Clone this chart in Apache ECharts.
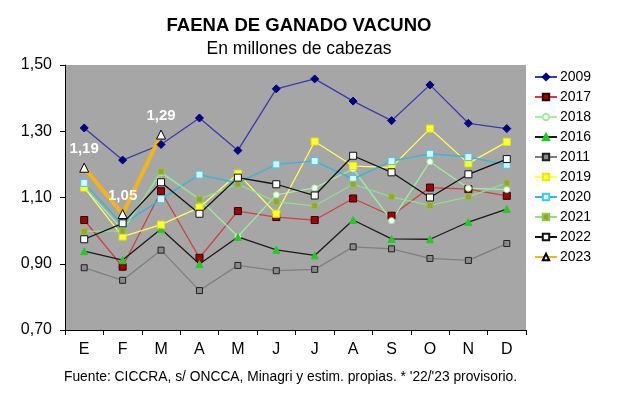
<!DOCTYPE html>
<html><head><meta charset="utf-8">
<script src="https://cdn.jsdelivr.net/npm/echarts@6/dist/echarts.min.js"></script>
<style>html,body{margin:0;padding:0;background:#fff}#c{width:640px;height:396px}</style>
</head><body><div id="c"></div>
<script>
const months = ['E','F','M','A','M','J','J','A','S','O','N','D'];
const yTicks = [0.70, 0.90, 1.10, 1.30, 1.50];
const s2009 = [1.310, 1.213, 1.260, 1.340, 1.242, 1.428, 1.458, 1.391, 1.332, 1.440, 1.324, 1.308];
const s2017 = [1.032, 0.891, 1.119, 0.918, 1.059, 1.041, 1.032, 1.097, 1.045, 1.130, 1.125, 1.105];
const s2018 = [1.130, 1.003, 1.175, 1.095, 0.982, 1.108, 1.129, 1.186, 1.030, 1.208, 1.128, 1.124];
const s2016 = [0.938, 0.911, 1.005, 0.899, 0.981, 0.942, 0.925, 1.032, 0.975, 0.974, 1.026, 1.065];
const s2011 = [0.888, 0.850, 0.941, 0.819, 0.895, 0.879, 0.883, 0.951, 0.945, 0.916, 0.910, 0.961];
const s2019 = [1.130, 0.982, 1.018, 1.070, 1.172, 1.051, 1.269, 1.195, 1.191, 1.308, 1.203, 1.268];
const s2020 = [1.144, 1.018, 1.095, 1.169, 1.144, 1.200, 1.210, 1.156, 1.210, 1.232, 1.222, 1.199];
const s2021 = [0.998, 0.999, 1.178, 1.095, 1.140, 1.087, 1.075, 1.140, 1.102, 1.076, 1.102, 1.144];
const s2022 = [0.974, 1.022, 1.146, 1.051, 1.160, 1.140, 1.106, 1.226, 1.176, 1.100, 1.170, 1.216];
const s2023 = [1.190, 1.050, 1.290];

const FONT = '"Liberation Sans", Arial, sans-serif';
function mk(name, data, lineColor, lineWidth, symbol, size, fill, border) {
  return {
    name, type: 'line', data, symbol, symbolSize: size, showAllSymbol: true,
    lineStyle: { color: lineColor, width: lineWidth },
    itemStyle: { color: fill, borderColor: border, borderWidth: 1 },
    emphasis: { disabled: true }, animation: false
  };
}
const series = [
  mk('2009', s2009, '#3b3bb0', 1.3, 'diamond', 8, '#000080', '#000080'),
  mk('2017', s2017, '#d04040', 1.3, 'rect', 7, '#a00000', '#300000'),
  mk('2018', s2018, '#a0eea0', 1.3, 'circle', 6, '#ffffff', '#a0eea0'),
  mk('2016', s2016, '#1a1a1a', 1.3, 'triangle', 7, '#22cc22', '#22cc22'),
  mk('2011', s2011, '#7f7f7f', 1.3, 'rect', 6, '#8a8a8a', '#202020'),
  mk('2019', s2019, '#ffff55', 1.3, 'rect', 7, '#ffff33', '#e8e800'),
  mk('2020', s2020, '#3cb4dc', 1.5, 'rect', 7, '#d8f6ff', '#3cc8f0'),
  mk('2021', s2021, '#8ee08e', 1.3, 'rect', 6, '#a0a030', '#88cc44'),
  mk('2022', s2022, '#111111', 1.3, 'rect', 7, '#ffffff', '#111111'),
  Object.assign(mk('2023', s2023, '#f4b41a', 4, 'triangle', 9, '#ffffff', '#000000'), {
    label: { show: true, position: 'top', distance: 6, color: '#ffffff', fontWeight: 'bold',
      fontSize: 15, fontFamily: FONT, formatter: p => p.value.toFixed(2).replace('.', ',') }
  })
];

const chart = echarts.init(document.getElementById('c'), null, { renderer: 'canvas' });
chart.setOption({
  animation: false,
  backgroundColor: '#ffffff',
  title: [
    { text: 'FAENA DE GANADO VACUNO', left: 294, top: 11, textAlign: 'center',
      textStyle: { fontFamily: FONT, fontSize: 18.5, fontWeight: 'bold', color: '#000' } },
    { text: 'En millones de cabezas', left: 294, top: 35, textAlign: 'center',
      textStyle: { fontFamily: FONT, fontSize: 17.5, fontWeight: 'normal', color: '#000' } },
    { text: "Fuente: CICCRA, s/ ONCCA, Minagri y estim. propias. * '22/'23 provisorio.", left: 64, top: 370, padding: 0,
      textStyle: { fontFamily: FONT, fontSize: 13.8, fontWeight: 'normal', color: '#000' } }
  ],
  grid: { left: 65, right: 114, top: 65, bottom: 66, show: true, backgroundColor: '#a6a6a6', borderWidth: 0 },
  legend: {
    orient: 'vertical', left: 529, top: 65, itemWidth: 22, itemHeight: 8, itemGap: 6,
    textStyle: { fontFamily: FONT, fontSize: 14, color: '#000', padding: [0, 0, 0, -2] },
    data: series.map(s => s.name)
  },
  xAxis: {
    type: 'category', data: months, boundaryGap: true,
    axisLine: { lineStyle: { color: '#000', width: 1 } },
    axisTick: { show: true, inside: false, length: 5, lineStyle: { color: '#000' } },
    axisLabel: { fontFamily: FONT, fontSize: 16, color: '#000', margin: 12 },
    splitLine: { show: false }
  },
  yAxis: {
    type: 'value', min: yTicks[0], max: yTicks[yTicks.length - 1], interval: 0.2,
    axisLine: { show: true, lineStyle: { color: '#000', width: 1 } },
    axisTick: { show: true, length: 5, lineStyle: { color: '#000' } },
    axisLabel: { fontFamily: FONT, fontSize: 16, color: '#000', margin: 13,
      formatter: v => v.toFixed(2).replace('.', ',') },
    splitLine: { show: false }
  },
  series
});
</script></body></html>
